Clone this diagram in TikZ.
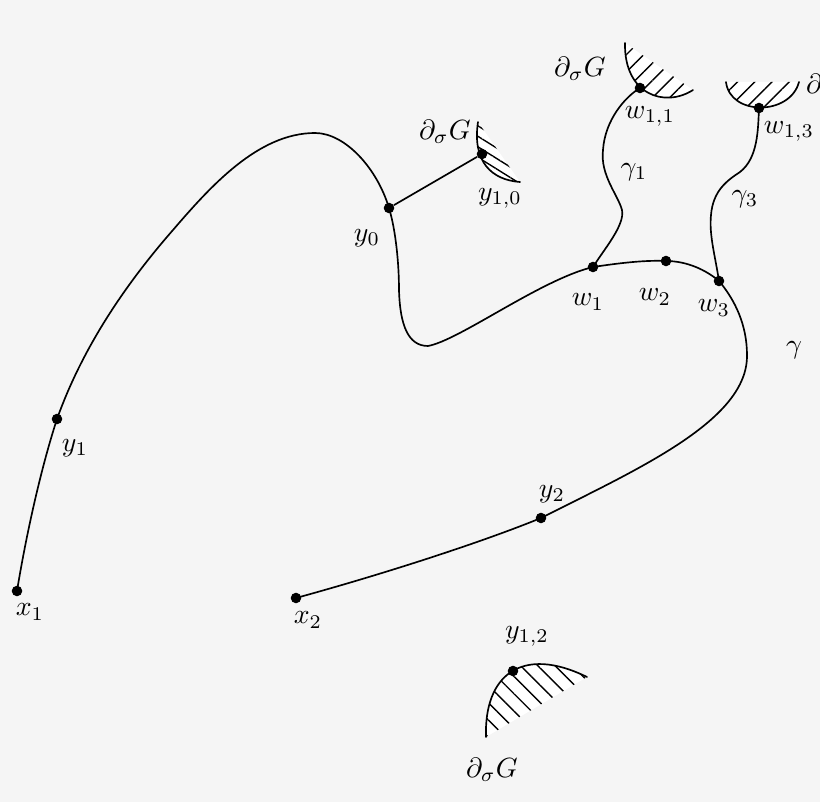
\documentclass[tikz,border=0pt]{standalone}
\usetikzlibrary{patterns.meta}
\definecolor{bgc}{RGB}{245,245,245}
\begin{document}
\begin{tikzpicture}[x=0.36pt,y=-0.36pt,
  dot/.style={circle,fill=black,inner sep=0pt,minimum size=3.8pt},
  curve/.style={line width=0.6pt,line cap=round,line join=round},
  lbl/.style={inner sep=0pt},
  hatchNE/.style={pattern={Lines[angle=45,distance=4.4pt,line width=0.5pt]}},
  hatchNW/.style={pattern={Lines[angle=-45,distance=4.4pt,line width=0.5pt]}},
  hatchSH/.style={pattern={Lines[angle=-32,distance=3.2pt,line width=0.5pt]}}]
\fill[bgc] (0,0) rectangle (820,802);
\useasboundingbox (0,0) rectangle (820,802);
% point positions
\coordinate (p-x1) at (17,591);
\coordinate (p-y1) at (57,419);
\coordinate (p-y0) at (389,208);
\coordinate (p-y10) at (482,154);
\coordinate (p-w1) at (593,267);
\coordinate (p-w2) at (666,261);
\coordinate (p-w3) at (719,281);
\coordinate (p-w11) at (640,88);
\coordinate (p-w13) at (759,108);
\coordinate (p-y2) at (541,518);
\coordinate (p-x2) at (296,598);
\coordinate (p-y12) at (513,671);
\coordinate (arc) at (173,230);
\coordinate (top) at (315,133);
\coordinate (m1) at (399,290);
\coordinate (low) at (428,346);
\coordinate (rgt) at (747,355);
\coordinate (g1a) at (622,210);
\coordinate (g1b) at (603,150);
\coordinate (g3a) at (711,215);
\coordinate (g3b) at (740,172);
% hatched boundary pieces
\fill[white] (625,43) .. controls (624,95) and (665,108) .. (693,90) -- cycle;
\fill[hatchNE] (625,43) .. controls (624,95) and (665,108) .. (693,90) -- cycle;
\draw[curve] (625,43) .. controls (624,95) and (665,108) .. (693,90);
\fill[white] (726,82) .. controls (730,116) and (790,116) .. (799,82) -- cycle;
\fill[hatchNE] (726,82) .. controls (730,116) and (790,116) .. (799,82) -- cycle;
\draw[curve] (726,82) .. controls (730,116) and (790,116) .. (799,82);
\fill[white] (478,122) .. controls (472,162) and (492,180) .. (520,182) -- cycle;
\fill[hatchSH] (478,122) .. controls (472,162) and (492,180) .. (520,182) -- cycle;
\draw[curve] (478,122) .. controls (472,162) and (492,180) .. (520,182);
\fill[white] (486,737) .. controls (484,675) and (522,645) .. (587,677) -- cycle;
\fill[hatchNW] (486,737) .. controls (484,675) and (522,645) .. (587,677) -- cycle;
\draw[curve] (486,737) .. controls (484,675) and (522,645) .. (587,677);
% main curve gamma
\draw[curve] (p-x1) .. controls (27,530) and (42,465) .. (p-y1)
  .. controls (82,349) and (124,286) .. (arc)
  .. controls (210,187) and (258,133) .. (top)
  .. controls (345,133) and (377,168) .. (p-y0)
  .. controls (396,231) and (399,265) .. (m1)
  .. controls (400,325) and (408,346) .. (low)
  .. controls (460,340) and (540,280) .. (p-w1)
  .. controls (620,263) and (645,260) .. (p-w2)
  .. controls (687,261) and (706,270) .. (p-w3)
  .. controls (735,300) and (747,325) .. (rgt)
  .. controls (748,420) and (640,468) .. (p-y2)
  .. controls (480,543) and (380,575) .. (p-x2);
% gamma_1 and gamma_3
\draw[curve] (p-w1) .. controls (605,248) and (625,225) .. (g1a)
  .. controls (618,195) and (600,175) .. (g1b)
  .. controls (605,120) and (625,97) .. (p-w11);
\draw[curve] (p-w3) .. controls (715,255) and (709,235) .. (g3a)
  .. controls (713,190) and (728,180) .. (g3b)
  .. controls (758,158) and (758,130) .. (p-w13);
% dots
\foreach \n in {x1,y1,y0,y10,w1,w2,w3,w11,w13,y2,x2,y12} \node[dot] (\n) at (p-\n) {};
\draw[curve] (y0) -- (y10);
% labels
\node[lbl] (l-x1) at (30,612) {$x_1$};
\node[lbl] (l-y1) at (75,448) {$y_1$};
\node[lbl] (l-y0) at (367,238) {$y_0$};
\node[lbl] (l-y10) at (500,198) {$y_{1,0}$};
\node[lbl] (l-d1) at (445,132) {$\partial_\sigma G$};
\node[lbl] (l-d2) at (580,69) {$\partial_\sigma G$};
\node[lbl] (l-d3) at (832,86) {$\partial_\sigma G$};
\node[lbl] (l-d4) at (492,770) {$\partial_\sigma G$};
\node[lbl] (l-w11) at (650,116) {$w_{1,1}$};
\node[lbl] (l-w13) at (789,131) {$w_{1,3}$};
\node[lbl] (l-g1) at (634,172) {$\gamma_1$};
\node[lbl] (l-g3) at (745,199) {$\gamma_3$};
\node[lbl] (l-w1) at (588,302) {$w_1$};
\node[lbl] (l-w2) at (655,297) {$w_2$};
\node[lbl] (l-w3) at (714,308) {$w_3$};
\node[lbl] (l-g) at (794,350) {$\gamma$};
\node[lbl] (l-y2) at (552,494) {$y_2$};
\node[lbl] (l-x2) at (308,620) {$x_2$};
\node[lbl] (l-y12) at (527,636) {$y_{1,2}$};
\end{tikzpicture}
\end{document}
